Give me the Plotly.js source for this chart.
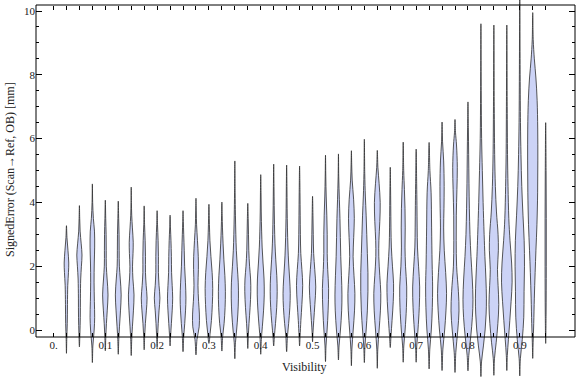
<!DOCTYPE html>
<html><head><meta charset="utf-8">
<script src="https://cdn.plot.ly/plotly-3.0.1.min.js"></script>
<style>html,body{margin:0;padding:0;background:#fff}#chart{width:576px;height:377px}</style>
</head><body><div id="chart"></div>
<script>
// ---- data ----
const visibility = [0.025,0.05,0.075,0.1,0.125,0.15,0.175,0.2,0.225,0.25,0.275,0.3,0.325,0.35,0.375,0.4,0.425,0.45,0.475,0.5,
  0.525,0.55,0.575,0.6,0.625,0.65,0.675,0.7,0.725,0.75,0.775,0.8,0.825,0.85,0.875,0.9,0.925,0.95];
// density profile of each violin: [signed error (mm), relative density]
const profiles = [
  [[-0.73,0],[-0.3,0.3],[0.2,0.8],[0.8,1.0],[1.4,1.3],[1.8,2.0],[2.1,2.3],[2.5,1.5],[2.9,0.5],[3.27,0]],
  [[-0.53,0],[-0.1,0.5],[0.4,0.9],[1.0,1.0],[1.6,1.3],[2.0,2.0],[2.35,2.6],[2.7,1.8],[3.1,0.7],[3.5,0.3],[3.9,0]],
  [[-1.02,0],[-0.5,0.5],[0,1.8],[0.4,2.3],[0.9,2.0],[1.5,1.7],[2.1,1.9],[2.6,2.3],[3.1,2.1],[3.5,1.0],[4.0,0.3],[4.58,0]],
  [[-0.65,0],[-0.2,0.5],[0.2,1.1],[0.6,1.9],[1.1,2.7],[1.6,1.8],[2.0,1.0],[2.5,0.9],[3.0,0.8],[3.5,0.4],[4.07,0]],
  [[-0.76,0],[-0.3,0.5],[0.1,1.2],[0.6,2.2],[1.1,2.9],[1.6,2.0],[2.0,1.1],[2.5,0.9],[3.0,0.8],[3.5,0.4],[4.04,0]],
  [[-0.8,0],[-0.3,0.5],[0.1,1.2],[0.6,2.2],[1.1,2.8],[1.6,1.7],[2.0,1.3],[2.4,1.8],[2.75,2.0],[3.2,1.2],[3.6,0.5],[4.0,0.2],[4.48,0]],
  [[-0.62,0],[-0.2,0.5],[0.2,1.2],[0.6,2.2],[1.0,2.9],[1.4,2.0],[1.8,1.3],[2.3,1.3],[2.8,1.0],[3.3,0.4],[3.89,0]],
  [[-0.55,0],[-0.2,0.5],[0.2,1.1],[0.6,1.9],[1.0,2.8],[1.4,1.9],[1.8,1.3],[2.3,1.3],[2.8,1.0],[3.3,0.4],[3.74,0]],
  [[-0.5,0],[-0.2,0.5],[0.2,1.3],[0.6,2.1],[1.0,2.6],[1.4,2.1],[1.8,1.5],[2.3,1.3],[2.8,0.9],[3.2,0.4],[3.6,0]],
  [[-0.68,0],[-0.2,0.7],[0.2,1.7],[0.6,2.5],[1.0,2.9],[1.5,2.4],[2.0,1.6],[2.5,1.2],[3.0,0.7],[3.4,0.3],[3.74,0]],
  [[-0.78,0],[-0.3,1.0],[0.1,3.2],[0.5,3.4],[0.9,2.6],[1.4,2.0],[1.9,2.4],[2.3,2.3],[2.8,1.5],[3.3,0.6],[3.7,0.3],[4.13,0]],
  [[-0.42,0],[-0.1,1.2],[0.3,2.5],[0.8,3.4],[1.3,3.8],[1.8,3.2],[2.3,2.0],[2.8,1.0],[3.3,0.5],[3.94,0]],
  [[-0.66,0],[-0.2,0.8],[0.2,2.2],[0.7,3.2],[1.2,3.5],[1.7,3.0],[2.2,2.0],[2.7,1.2],[3.2,0.6],[3.6,0.3],[4.01,0]],
  [[-0.9,0],[-0.4,0.6],[0,1.8],[0.5,3.0],[1.0,3.6],[1.5,3.4],[2.0,2.4],[2.5,1.5],[3.0,1.0],[3.6,0.6],[4.3,0.3],[5.3,0]],
  [[-0.58,0],[-0.2,0.5],[0.2,1.2],[0.7,2.3],[1.2,3.0],[1.6,2.8],[2.0,1.8],[2.5,1.0],[3.0,0.7],[3.5,0.4],[3.97,0]],
  [[-0.76,0],[-0.3,0.6],[0.1,1.6],[0.6,2.8],[1.1,3.5],[1.6,3.3],[2.1,2.3],[2.6,1.4],[3.1,0.9],[3.7,0.5],[4.3,0.3],[4.87,0]],
  [[-0.5,0],[-0.2,0.7],[0.2,1.8],[0.7,3.0],[1.2,3.5],[1.7,3.1],[2.2,2.1],[2.7,1.3],[3.3,0.8],[3.9,0.5],[4.5,0.3],[5.2,0]],
  [[-0.68,0],[-0.2,0.8],[0.2,2.0],[0.7,3.2],[1.15,3.6],[1.6,3.0],[2.1,2.0],[2.6,1.3],[3.2,0.8],[3.8,0.5],[4.5,0.3],[5.17,0]],
  [[-0.5,0],[-0.2,0.5],[0.3,1.3],[0.8,2.3],[1.4,3.1],[1.9,2.3],[2.4,1.2],[3.0,0.8],[3.6,0.6],[4.3,0.4],[5.14,0]],
  [[-0.37,0],[-0.1,0.4],[0.3,1.2],[0.8,2.3],[1.35,3.2],[1.9,2.2],[2.4,1.1],[3.0,0.7],[3.6,0.4],[4.19,0]],
  [[-0.99,0],[-0.5,0.5],[0,1.6],[0.6,2.6],[1.3,3.1],[1.9,2.2],[2.4,1.7],[3.0,1.7],[3.6,1.3],[4.2,0.7],[4.8,0.3],[5.48,0]],
  [[-0.94,0],[-0.5,0.6],[0,2.0],[0.6,3.2],[1.1,3.5],[1.7,3.0],[2.3,2.3],[2.9,1.9],[3.5,1.5],[4.1,0.9],[4.8,0.3],[5.52,0]],
  [[-1.12,0],[-0.6,0.5],[0,1.8],[0.6,3.1],[1.15,3.5],[1.7,2.6],[2.3,1.7],[2.9,2.3],[3.5,2.9],[4.1,2.2],[4.7,0.8],[5.2,0.3],[5.62,0]],
  [[-1.02,0],[-0.5,0.6],[0,1.8],[0.6,3.0],[1.2,3.6],[1.8,3.6],[2.4,3.0],[3.0,2.4],[3.6,1.8],[4.2,1.0],[4.9,0.4],[5.98,0]],
  [[-1.2,0],[-0.6,0.5],[0,1.8],[0.6,3.1],[1.15,3.5],[1.7,2.5],[2.3,1.5],[2.8,1.6],[3.4,2.5],[4.0,2.9],[4.6,1.8],[5.1,0.6],[5.63,0]],
  [[-0.55,0],[-0.2,0.7],[0.3,1.8],[0.9,3.0],[1.45,3.3],[2.0,2.2],[2.6,1.1],[3.2,0.7],[3.9,0.5],[4.5,0.3],[5.1,0]],
  [[-1.01,0],[-0.5,0.6],[0,1.9],[0.7,3.2],[1.35,3.5],[2.0,2.3],[2.6,1.8],[3.2,2.0],[3.8,1.8],[4.4,1.2],[5.0,0.5],[5.89,0]],
  [[-1.01,0],[-0.5,0.6],[0,1.8],[0.7,3.1],[1.35,3.5],[2.0,2.4],[2.6,1.3],[3.2,1.0],[3.9,0.8],[4.6,0.5],[5.67,0]],
  [[-1.22,0],[-0.6,0.7],[0,2.2],[0.7,3.2],[1.35,3.5],[2.1,3.0],[3.2,2.5],[4.3,2.0],[5.0,0.8],[5.88,0]],
  [[-1.27,0],[-0.6,0.8],[0,2.6],[0.6,3.9],[1.15,4.5],[1.8,3.6],[2.5,2.2],[3.2,1.6],[3.8,1.9],[4.5,2.1],[5.3,1.6],[5.9,0.5],[6.52,0]],
  [[-1.33,0],[-0.7,0.8],[0,2.8],[0.6,4.0],[1.2,3.4],[2.0,1.6],[2.8,1.2],[3.6,1.3],[4.4,1.9],[5.1,2.3],[5.8,1.5],[6.2,0.5],[6.6,0]],
  [[-1.28,0],[-0.8,0.8],[-0.2,2.8],[0.4,4.4],[0.95,5.0],[1.6,4.3],[2.3,3.0],[3.0,2.0],[3.8,1.4],[4.6,1.0],[5.5,0.7],[6.3,0.4],[7.15,0]],
  [[-1.46,0],[-1.0,0.6],[-0.5,2.5],[0,4.2],[0.5,5.2],[1.0,5.5],[1.6,5.0],[2.3,4.0],[3.0,3.2],[4.0,2.2],[5.0,1.4],[6.0,0.7],[7.5,0.3],[9.6,0]],
  [[-1.42,0],[-0.9,0.6],[-0.4,2.3],[0.2,4.0],[0.8,4.9],[1.4,4.2],[1.9,3.6],[2.5,4.5],[3.0,4.2],[3.7,2.6],[4.5,1.5],[5.5,0.8],[7.0,0.4],[9.56,0]],
  [[-1.27,0],[-0.8,0.5],[-0.3,1.6],[0.3,3.0],[0.9,4.3],[1.5,5.3],[2.1,4.8],[2.8,3.2],[3.5,2.0],[4.5,1.2],[5.5,0.7],[7.0,0.4],[9.56,0]],
  [[-1.44,0],[-0.9,0.6],[-0.3,2.5],[0.4,4.0],[1.2,4.3],[2.0,4.7],[2.8,4.4],[3.6,3.2],[4.5,2.0],[5.5,1.2],[6.5,0.7],[8.0,0.4],[10.6,0]],
  [[-0.89,0],[-0.4,0.4],[0.2,1.0],[1.0,1.6],[1.8,2.4],[2.5,3.2],[3.3,4.2],[4.3,4.9],[5.3,5.1],[6.3,5.0],[7.2,4.4],[7.9,3.2],[8.5,1.6],[9.1,0.5],[9.95,0]],
  [[-0.42,0],[0.5,0.4],[2.0,0.6],[3.5,0.6],[5.0,0.4],[6.5,0]]
];
const xTickLabelValues = [0,0.1,0.2,0.3,0.4,0.5,0.6,0.7,0.8,0.9];
const xTickLabels = ['0.','0.1','0.2','0.3','0.4','0.5','0.6','0.7','0.8','0.9'];
const yTickValues = [0,2,4,6,8,10];
const yTickLabels = ['0','2','4','6','8','10'];
const yMinorTickValues = [0.5,1,1.5,2.5,3,3.5,4.5,5,5.5,6.5,7,7.5,8.5,9,9.5];
const xTitle = 'Visibility';
const yTitle = 'SignedError (Scan\u2192Ref, OB) [mm]';

// ---- layout geometry / style ----
const W = 576, H = 377;
const M = {l: 36, r: 1, t: 0, b: 0};
const xRange = [-0.0338, 1.0066];
const yRange = [-1.473, 10.345];
const plotW = W - M.l - M.r;
const xPerPx = (xRange[1] - xRange[0]) / plotW;
const frameBottom = 40 / 377, frameTop = 372 / 377;
const FONT = 'Liberation Serif, Times New Roman, serif';

const traces = visibility.map((v, i) => {
  const p = profiles[i];
  const xs = [], ys = [];
  p.forEach(([y, d]) => { xs.push(v + d * xPerPx); ys.push(y); });
  for (let j = p.length - 2; j >= 0; j--) { xs.push(v - p[j][1] * xPerPx); ys.push(p[j][0]); }
  return {type: 'scatter', mode: 'lines', x: xs, y: ys, fill: 'toself',
    fillcolor: 'rgb(204,211,246)',
    line: {color: 'rgba(45,45,45,0.8)', width: 1, shape: 'spline', smoothing: 1},
    hoverinfo: 'skip', showlegend: false};
});
traces.push({type: 'scatter', x: [], y: [], xaxis: 'x2', yaxis: 'y', showlegend: false, hoverinfo: 'skip'});

const xTickVals = [0].concat(visibility);
const xTickText = xTickVals.map(v => {
  const k = xTickLabelValues.findIndex(t => Math.abs(t - v) < 1e-9);
  return k >= 0 ? xTickLabels[k] : '';
});

const tickFont = {family: FONT, size: 11, color: '#222'};
const layout = {
  width: W, height: H, margin: M,
  paper_bgcolor: '#fff', plot_bgcolor: 'rgba(0,0,0,0)',
  showlegend: false,
  xaxis: {range: xRange, anchor: 'free', position: frameBottom, showgrid: false, zeroline: false,
    showline: false, ticks: 'inside', ticklen: 4, tickwidth: 1, tickcolor: '#000',
    tickmode: 'array', tickvals: xTickVals, ticktext: xTickText, tickfont: tickFont},
  xaxis2: {range: xRange, overlaying: 'x', matches: 'x', anchor: 'free', position: frameTop, side: 'top',
    showgrid: false, zeroline: false, showline: false, ticks: 'inside', ticklen: 4, tickwidth: 1,
    tickcolor: '#000', tickmode: 'array', tickvals: xTickVals, showticklabels: false},
  yaxis: {range: yRange, showgrid: false, zeroline: false, showline: false, mirror: 'ticks',
    ticks: 'inside', ticklen: 6, tickwidth: 1, tickcolor: '#000',
    tickmode: 'array', tickvals: yTickValues, ticktext: yTickLabels, tickfont: tickFont,
    minor: {tickmode: 'array', tickvals: yMinorTickValues, ticks: 'inside', ticklen: 3, tickcolor: '#000', tickwidth: 1, showgrid: false}},
  shapes: [{type: 'rect', xref: 'paper', yref: 'paper', x0: 0, x1: 1, y0: frameBottom, y1: frameTop,
    line: {color: '#000', width: 1}, fillcolor: 'rgba(0,0,0,0)', layer: 'above'}],
  annotations: [
    {text: xTitle, xref: 'paper', yref: 'paper', x: 0.499, y: (377 - 367) / 377, xanchor: 'center', yanchor: 'middle',
      showarrow: false, font: {family: FONT, size: 12, color: '#222'}},
    {text: yTitle, xref: 'paper', yref: 'paper', x: (10 - 36) / plotW, y: (377 - 170) / 377, xanchor: 'center', yanchor: 'middle',
      textangle: -90, showarrow: false, font: {family: FONT, size: 12, color: '#222'}}
  ]
};
Plotly.newPlot('chart', traces, layout, {staticPlot: true, displayModeBar: false});
</script></body></html>
